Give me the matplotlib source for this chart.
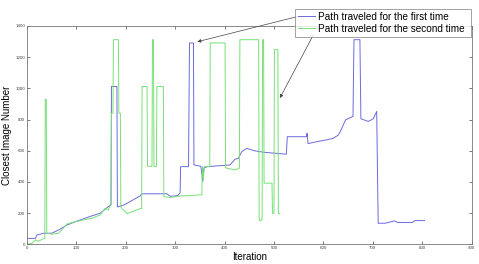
import matplotlib
matplotlib.use("Agg")
import matplotlib.pyplot as plt

# path traveled for the first time (iteration, closest image number)
first_x = [0, 17, 20, 34, 50, 64, 81, 98, 131, 148, 168, 170, 171, 182, 183, 195,
           229, 233, 283, 290, 305, 310, 311, 327, 329, 337, 338, 352, 356, 358,
           365, 411, 421, 428, 435, 445, 460, 480, 525, 527, 566, 567, 569, 590,
           610, 620, 630, 634, 645, 660, 662, 674, 676, 691, 701, 708, 711, 725,
           744, 750, 780, 785, 805]
first_y = [38, 38, 60, 71, 71, 92, 124, 145, 182, 199, 250, 252, 1012, 1012, 240, 250,
           310, 324, 324, 308, 312, 330, 498, 498, 1291, 1291, 509, 500, 402, 490,
           498, 509, 545, 552, 595, 615, 600, 590, 578, 690, 690, 712, 646, 660,
           672, 680, 700, 721, 798, 820, 1312, 1312, 805, 788, 805, 852, 135, 135,
           150, 140, 140, 152, 152]

# path traveled for the second time
second_x = [0, 10, 17, 23, 34, 36, 37, 39, 40, 50, 64, 81, 98, 120, 131, 148, 158,
            165, 168, 170, 171, 174, 175, 185, 186, 189, 190, 195, 203, 229, 232,
            233, 243, 244, 253, 254, 256, 257, 262, 263, 276, 277, 290, 300, 310,
            354, 355, 357, 359, 370, 371, 401, 402, 421, 430, 431, 469, 470, 472,
            476, 477, 479, 480, 496, 497, 500, 501, 508, 509, 512]
second_y = [0, 6, 28, 19, 38, 38, 930, 930, 71, 65, 71, 130, 145, 160, 167, 188, 231,
            220, 252, 252, 841, 841, 1312, 1312, 841, 841, 240, 220, 197, 229, 229,
            1012, 1012, 500, 500, 1312, 1312, 500, 500, 1012, 1012, 306, 300, 305, 310,
            317, 498, 420, 498, 498, 1291, 1291, 490, 477, 488, 1312, 1312, 160, 150,
            160, 1312, 1312, 392, 392, 199, 199, 1248, 1248, 196, 196]

labels = ["Path traveled for the first time", "Path traveled for the second time"]

plt.rcParams['font.family'] = ['Liberation Sans', 'DejaVu Sans']

fig = plt.figure(figsize=(4.79, 2.64), dpi=100)
ax = fig.add_axes([0.0564, 0.0746, 0.928, 0.827])

ax.plot(first_x, first_y, color="#6b6bdc", lw=0.7, label=labels[0])
ax.plot(second_x, second_y, color="#78e078", lw=0.7, label=labels[1])

ax.set_xlim(0, 900)
ax.set_ylim(0, 1400)
ax.set_xticks(range(0, 901, 100))
ax.set_yticks(range(0, 1401, 200))
ax.tick_params(direction="in", top=True, right=True, length=2, width=0.5,
               labelsize=3.2, colors="#444444", pad=1.5)
for s in ax.spines.values():
    s.set_linewidth(0.6)
    s.set_color("#777777")

ax.set_xlabel("Iteration", fontsize=7, labelpad=1)
ax.set_ylabel("Closest Image Number", fontsize=7, labelpad=2)

leg = ax.legend(loc="upper left", bbox_to_anchor=(0.603, 0.959, 0.395, 0.12),
                mode="expand", fontsize=7.2, frameon=True, fancybox=False,
                handlelength=1.7, handletextpad=0.3, borderpad=0.3,
                labelspacing=0.2, borderaxespad=0)
leg.get_frame().set_edgecolor("#777777")
leg.get_frame().set_linewidth(0.6)

# arrows from legend entries to the curves
ax.annotate("", xy=(345, 1299), xytext=(547, 1460), annotation_clip=False,
            arrowprops=dict(arrowstyle="-|>", color="#444444", lw=0.5,
                            mutation_scale=5, shrinkA=0, shrinkB=0))
ax.annotate("", xy=(512, 938), xytext=(580, 1344), annotation_clip=False,
            arrowprops=dict(arrowstyle="-|>", color="#444444", lw=0.5,
                            mutation_scale=5, shrinkA=0, shrinkB=0))

fig.savefig("out.png", dpi=100)
